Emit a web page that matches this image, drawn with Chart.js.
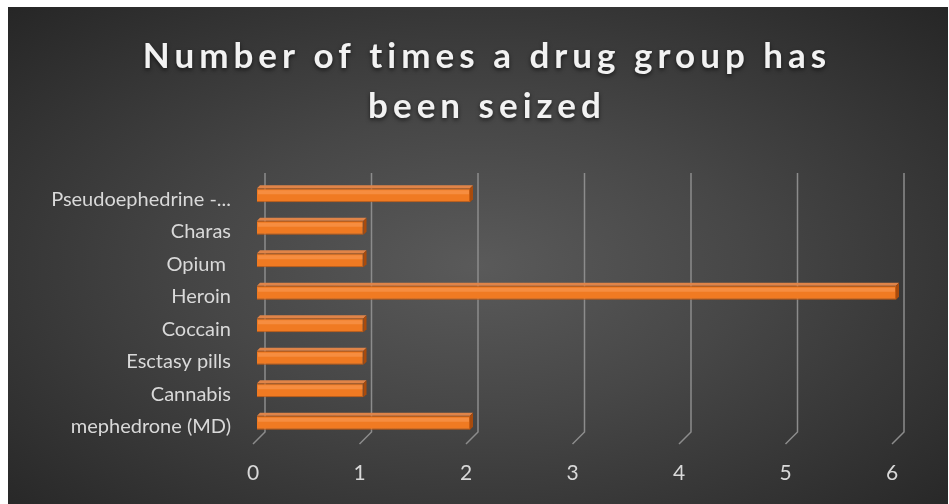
<!DOCTYPE html>
<html>
<head>
<meta charset="utf-8">
<script src="https://cdn.jsdelivr.net/npm/chart.js@4.4.1/dist/chart.umd.min.js"></script>
<style>
  html, body { margin: 0; padding: 0; background: #ffffff; overflow: hidden; }
  #box {
    position: absolute; left: 8px; top: 7px; width: 940px; height: 497px; overflow: hidden;
    background: radial-gradient(ellipse farthest-corner at 50% 52%, #5a5a5a 0%, #474747 40%, #262626 100%);
  }
  canvas { display: block; }
</style>
</head>
<body>
<div id="box"><canvas id="myChart" width="940" height="497"></canvas></div>
<script>
// Chart data, top row first
// =======================================================
var drugs = ["Pseudoephedrine -...", "Charas", "Opium ", "Heroin", "Coccain", "Esctasy pills", "Cannabis", "mephedrone (MD)"];
var timesSeized = [2, 1, 1, 6, 1, 1, 1, 2];
var xTicks = [0, 1, 2, 3, 4, 5, 6];
var titleLines = ["Number of times a drug group has", "been seized"];

var labelFont = "Lato, 'Open Sans', sans-serif";

// Title, drawn by hand so it can get the wide letter spacing
// =======================================================
var spacedTitle = {
    id: "spacedTitle",
    afterDraw: function (chart) {
        var ctx = chart.ctx;
        ctx.save();
        ctx.font = "bold 35px Lato, sans-serif";
        ctx.letterSpacing = "5px";
        ctx.textAlign = "center";
        ctx.textBaseline = "middle";
        ctx.fillStyle = "#f2f2f2";
        ctx.shadowColor = "rgba(0,0,0,0.6)";
        ctx.shadowBlur = 4;
        ctx.shadowOffsetY = 2;
        titleLines.forEach(function (line, i) {
            ctx.fillText(line, chart.width / 2 + 9, 50 + i * 50);
        });
        ctx.restore();
    }
};

// 3D look: back wall grid lines with a little foot, and bar top/side faces
// =======================================================
var wallGrid = {
    id: "wallGrid",
    beforeDatasetsDraw: function (chart) {
        var ctx = chart.ctx;
        var area = chart.chartArea;
        var xs = chart.scales.x;
        ctx.save();
        ctx.strokeStyle = "#8c8c8c";
        ctx.lineWidth = 1.5;
        xTicks.forEach(function (v) {
            var px = xs.getPixelForValue(v) + 8;
            ctx.beginPath();
            ctx.moveTo(px, area.top - 6);
            ctx.lineTo(px, area.bottom - 7);
            ctx.lineTo(px - 12, area.bottom + 5);
            ctx.stroke();
        });
        ctx.restore();
    }
};

var barFaces = {
    id: "barFaces",
    afterDatasetsDraw: function (chart) {
        var ctx = chart.ctx;
        var d = 3;
        ctx.save();
        chart.getDatasetMeta(0).data.forEach(function (bar) {
            var top = bar.y - bar.height / 2;
            var bottom = bar.y + bar.height / 2;
            // top face
            ctx.fillStyle = "#e08448";
            ctx.beginPath();
            ctx.moveTo(bar.base, top);
            ctx.lineTo(bar.x, top);
            ctx.lineTo(bar.x + d, top - d);
            ctx.lineTo(bar.base + d, top - d);
            ctx.closePath();
            ctx.fill();
            // side face
            ctx.fillStyle = "#a94b0c";
            ctx.beginPath();
            ctx.moveTo(bar.x, top);
            ctx.lineTo(bar.x + d, top - d);
            ctx.lineTo(bar.x + d, bottom - d);
            ctx.lineTo(bar.x, bottom);
            ctx.closePath();
            ctx.fill();
            // highlight on the front
            ctx.fillStyle = "rgba(255,170,110,0.4)";
            ctx.fillRect(bar.base + 1, top + 2, bar.x - bar.base - 2, 4);
        });
        ctx.restore();
    }
};

var ctx = document.getElementById("myChart");

var myChart = new Chart(ctx, {
    type: "bar",
    data: {
        labels: drugs,
        datasets: [{
            label: "Seized",
            data: timesSeized,
            backgroundColor: "#f07a22",
            borderColor: "#c65c12",
            borderWidth: 1,
            categoryPercentage: 0.43,
            barPercentage: 1
        }]
    },
    options: {
        indexAxis: "y",
        responsive: false,
        animation: false,
        layout: {
            padding: { left: 0, right: 52, top: 172, bottom: 0 }
        },
        plugins: {
            legend: { display: false },
            tooltip: { enabled: false },
            title: { display: false }
        },
        scales: {
            x: {
                min: 0,
                max: 6,
                ticks: {
                    stepSize: 1,
                    color: "#d9d9d9",
                    font: { family: labelFont, size: 21 },
                    padding: 22,
                    labelOffset: -4
                },
                grid: { display: false, drawTicks: false },
                border: { display: false },
                afterFit: function (scale) { scale.height = 65; }
            },
            y: {
                ticks: {
                    color: "#d9d9d9",
                    font: { family: labelFont, size: 20 },
                    padding: 26,
                    labelOffset: 4
                },
                grid: { display: false, drawTicks: false },
                border: { display: false },
                afterFit: function (scale) { scale.width = 249; }
            }
        }
    },
    plugins: [wallGrid, barFaces, spacedTitle]
});
</script>
</body>
</html>
